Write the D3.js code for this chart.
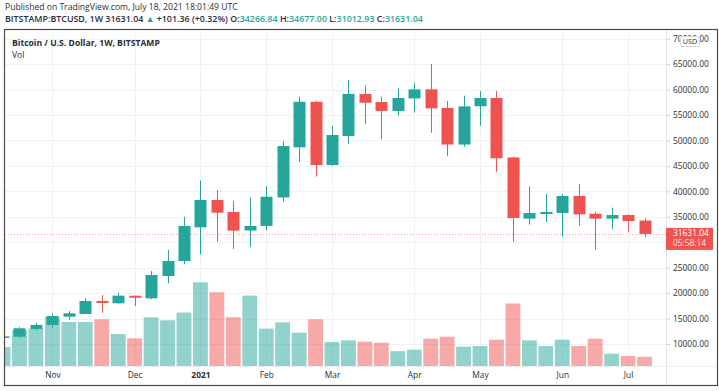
<!DOCTYPE html>
<html>
<head>
<meta charset="utf-8">
<script src="https://cdn.jsdelivr.net/npm/d3@7.9.0/dist/d3.min.js"></script>
<style>
  body { margin: 0; background: #fff; }
  svg { display: block; font-family: "Open Sans", sans-serif; }
</style>
</head>
<body>
<svg id="chart" width="719" height="391"></svg>
<script>
// weekly candles, BITSTAMP:BTCUSD (week start dates)
const weeks = [
  "2020-10-12", "2020-10-19", "2020-10-26", "2020-11-02", "2020-11-09", "2020-11-16", "2020-11-23", "2020-11-30",
  "2020-12-07", "2020-12-14", "2020-12-21", "2020-12-28", "2021-01-04", "2021-01-11", "2021-01-18", "2021-01-25",
  "2021-02-01", "2021-02-08", "2021-02-15", "2021-02-22", "2021-03-01", "2021-03-08", "2021-03-15", "2021-03-22",
  "2021-03-29", "2021-04-05", "2021-04-12", "2021-04-19", "2021-04-26", "2021-05-03", "2021-05-10", "2021-05-17",
  "2021-05-24", "2021-05-31", "2021-06-07", "2021-06-14", "2021-06-21", "2021-06-28", "2021-07-05", "2021-07-12"
];
const opens = [
  11300, 11430, 12950, 13740, 15370, 15900, 18450, 18000,
  19490, 18980, 23370, 26310, 32930, 38300, 35950, 32300,
  33200, 38800, 48650, 57600, 45180, 50870, 59130, 57550,
  55800, 58270, 60050, 56390, 49200, 56720, 58350, 46660,
  34630, 35540, 35750, 39090, 35600, 34630, 35350, 34266.84
];
const highs = [
  11720, 13350, 14150, 16030, 16480, 18980, 19600, 20080,
  19500, 24350, 28470, 35010, 42100, 40270, 38100, 38750,
  41050, 49900, 58600, 57800, 52850, 61880, 60760, 58600,
  60250, 61350, 65030, 57760, 58800, 59720, 59720, 46800,
  41000, 39480, 39480, 41450, 35940, 36790, 35500, 34677.00
];
const lows = [
  11200, 11300, 12650, 13200, 14750, 15830, 16150, 17900,
  17470, 18790, 21920, 25660, 27630, 30100, 28670, 29100,
  32300, 37970, 45800, 42900, 44980, 49300, 53240, 50260,
  54940, 55460, 51530, 46960, 48770, 52920, 43860, 30050,
  33470, 33980, 31040, 33250, 28520, 32610, 31960, 31012.93
];
const closes = [
  11500, 13090, 13740, 15500, 16030, 18450, 18060, 19500,
  19100, 23560, 26310, 33190, 38300, 35800, 32270, 33200,
  38940, 48900, 57600, 45180, 51080, 59130, 57420, 55800,
  58350, 60040, 56310, 49200, 56700, 58350, 46500, 34750,
  35750, 35940, 39090, 35480, 34630, 35350, 34170, 31631.04
];
const volumes = [
  19000, 35700, 37400, 49000, 44000, 44000, 46700, 32000,
  27700, 48700, 45700, 53400, 83700, 73700, 48700, 70400,
  37400, 43700, 33400, 46700, 24000, 25700, 24300, 23300,
  14900, 16300, 27300, 29300, 19300, 20000, 26300, 62500,
  25700, 20000, 26300, 20000, 27300, 12300, 9900, 9200
];
const priceTicks = [10000, 15000, 20000, 25000, 30000, 35000, 40000, 45000, 50000, 55000, 60000, 65000, 70000];
const monthTicks = ["2020-11-02", "2020-12-07", "2021-01-04", "2021-02-01", "2021-03-01", "2021-04-05", "2021-05-03", "2021-06-07", "2021-07-05"];
const monthLabels = ["Nov", "Dec", "2021", "Feb", "Mar", "Apr", "May", "Jun", "Jul"];

const up = "#26a69a", down = "#ef5350";
const upVol = "rgba(38,166,154,0.5)", downVol = "rgba(239,83,80,0.5)";
const textColor = "#2a2e39";

const parse = d3.utcParse("%Y-%m-%d");
const dates = weeks.map(parse);
const candles = dates.map((d, i) => ({ date: d, o: opens[i], h: highs[i], l: lows[i], c: closes[i], v: volumes[i] }));

const plot = { left: 5, right: 666, top: 30, bottom: 366 };

const svg = d3.select("#chart");

// scales
const x = d3.scaleUtc()
  .domain([dates[0], dates[dates.length - 1]])
  .range([3.05, 644.5]);
const step = x(dates[1]) - x(dates[0]);
const y = d3.scaleLinear().domain([10000, 70000]).range([344, 38.7]);
const yVol = d3.scaleLinear().domain([0, 100000]).range([plot.bottom, plot.bottom - 100]);

svg.append("clipPath").attr("id", "plotClip")
  .append("rect")
  .attr("x", plot.left).attr("y", plot.top)
  .attr("width", plot.right - plot.left).attr("height", plot.bottom - plot.top);

// grid
const grid = svg.append("g").attr("clip-path", "url(#plotClip)");
grid.selectAll(".hgrid").data(priceTicks).join("line")
  .attr("x1", plot.left).attr("x2", plot.right)
  .attr("y1", d => Math.round(y(d)) + 0.5).attr("y2", d => Math.round(y(d)) + 0.5)
  .attr("stroke", "#eef1f6");
grid.selectAll(".vgrid").data(monthTicks.map(parse)).join("line")
  .attr("x1", d => Math.round(x(d)) + 0.5).attr("x2", d => Math.round(x(d)) + 0.5)
  .attr("y1", plot.top).attr("y2", plot.bottom)
  .attr("stroke", "#eef1f6");

// volume bars
const volW = step - 1.6;
grid.selectAll(".vol").data(candles).join("rect")
  .attr("x", d => x(d.date) - volW / 2)
  .attr("width", volW)
  .attr("y", d => yVol(d.v))
  .attr("height", d => yVol(0) - yVol(d.v))
  .attr("fill", d => d.c >= d.o ? upVol : downVol);

// last price dotted line
const last = candles[candles.length - 1];
grid.append("line")
  .attr("x1", plot.left).attr("x2", plot.right)
  .attr("y1", Math.round(y(last.c)) + 0.5).attr("y2", Math.round(y(last.c)) + 0.5)
  .attr("stroke", down).attr("stroke-opacity", 0.6)
  .attr("stroke-dasharray", "1,2");

// candles
const bodyW = Math.round(step * 0.74);
const candleG = grid.selectAll(".candle").data(candles).join("g");
candleG.append("line")
  .attr("x1", d => Math.round(x(d.date)) + 0.5).attr("x2", d => Math.round(x(d.date)) + 0.5)
  .attr("y1", d => y(d.h)).attr("y2", d => y(d.l))
  .attr("stroke", d => d.c >= d.o ? up : down);
candleG.append("rect")
  .attr("x", d => Math.round(x(d.date)) + 0.5 - bodyW / 2)
  .attr("width", bodyW)
  .attr("y", d => y(Math.max(d.o, d.c)))
  .attr("height", d => Math.max(1.5, Math.abs(y(d.o) - y(d.c))))
  .attr("fill", d => d.c >= d.o ? up : down);

// separators
svg.append("line").attr("x1", plot.right + 0.5).attr("x2", plot.right + 0.5)
  .attr("y1", plot.top).attr("y2", 385).attr("stroke", "#e0e3eb");
svg.append("line").attr("x1", plot.left).attr("x2", 718)
  .attr("y1", plot.bottom + 0.5).attr("y2", plot.bottom + 0.5).attr("stroke", "#eef0f4");

// price axis (the 30000 label sits under the last-price tag, so it is not drawn)
const ly = y(last.c);
const yAxis = svg.append("g")
  .attr("transform", `translate(${plot.right + 1},0)`)
  .call(d3.axisRight(y).tickValues(priceTicks)
    .tickFormat(d => Math.abs(y(d) - (ly + 5)) < 12 ? "" : d3.format(".2f")(d))
    .tickSize(3).tickPadding(3));
yAxis.select(".domain").remove();
yAxis.selectAll("line").attr("stroke", "#c9ccd4");
yAxis.selectAll("text").attr("fill", textColor).attr("font-size", 8.4).attr("font-family", "Open Sans");

// last price label
svg.append("rect").attr("x", plot.right).attr("y", ly - 6).attr("width", 47).attr("height", 22).attr("fill", down);
svg.append("text").attr("x", 673).attr("y", ly + 2.5).attr("fill", "#fff").attr("font-size", 8.4)
  .text(d3.format(".2f")(last.c));
svg.append("text").attr("x", 673).attr("y", ly + 12).attr("fill", "#fde3e2").attr("font-size", 8.4)
  .text("05:58:14");

// USD badge (covers the middle of the 70000 label, as on the original)
svg.append("rect").attr("x", 680.5).attr("y", 36.5).attr("width", 19).attr("height", 10).attr("rx", 2)
  .attr("fill", "#fff").attr("stroke", "#d1d4dc");
svg.append("text").attr("x", 690).attr("y", 44.3).attr("text-anchor", "middle")
  .attr("fill", textColor).attr("font-size", 7.2).text("USD");

// time axis
const xAxis = svg.append("g")
  .attr("transform", `translate(0,${plot.bottom})`)
  .call(d3.axisBottom(x).tickValues(monthTicks.map(parse))
    .tickFormat((d, i) => monthLabels[i]).tickSize(0).tickPadding(6));
xAxis.select(".domain").remove();
xAxis.selectAll("text").attr("fill", textColor).attr("font-size", 8.4).attr("font-family", "Open Sans")
  .attr("font-weight", (d, i) => monthLabels[i] === "2021" ? 700 : 400);

// frame
svg.append("rect").attr("x", 4.5).attr("y", 29.5).attr("width", 713).attr("height", 356)
  .attr("fill", "none").attr("stroke", "#4a4a4a").attr("stroke-width", 1.2);

// header
svg.append("text").attr("x", 5).attr("y", 9.5).attr("fill", textColor).attr("font-size", 8.6)
  .text("Published on TradingView.com, July 18, 2021 18:01:49 UTC");
const h2 = svg.append("text").attr("x", 5).attr("y", 22).attr("font-size", 8.9).attr("font-weight", 600).attr("fill", textColor);
const parts = [
  ["BITSTAMP:BTCUSD, 1W ", textColor], ["31631.04 ", textColor], ["▲ ", up], ["+101.36 (+0.32%) ", textColor],
  ["O:", textColor], ["34266.84 ", up], ["H:", textColor], ["34677.00 ", up],
  ["L:", textColor], ["31012.93 ", up], ["C:", textColor], ["31631.04", up]
];
parts.forEach(([t, col]) => h2.append("tspan").attr("fill", col).text(t));

svg.append("text").attr("x", 12).attr("y", 45.5).attr("fill", textColor).attr("font-size", 8.6).attr("font-weight", 700)
  .text("Bitcoin / U.S. Dollar, 1W, BITSTAMP");
svg.append("text").attr("x", 12).attr("y", 57.5).attr("fill", textColor).attr("font-size", 8.6)
  .text("Vol");
</script>
</body>
</html>
